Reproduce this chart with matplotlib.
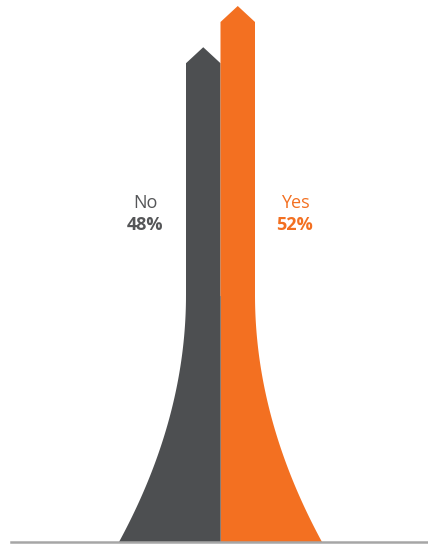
import numpy as np
import matplotlib
matplotlib.use("Agg")
import matplotlib.pyplot as plt

# Data
categories = ["No", "Yes"]
values = [48, 52]
colors = ["#4D4F51", "#F37021"]
label_colors = ["#555658", "#F37021"]

W, H = 428, 545
fig = plt.figure(figsize=(W / 100, H / 100), dpi=100)
ax = fig.add_axes([0, 0, 1, 1])

# scale: pixels per percentage unit
k = 536 / 52.0
base_px = 542  # baseline pixel row from top
ax.set_xlim(0, W)
ax.set_ylim(-(H - base_px) / k, base_px / k)
ax.axis("off")

center = 220.5
col_w = 34.5
head_h = 16 / k
flare_h = 247 / k
flare_ext = 67

def shape(side, val):
    # side = -1 for left (No), +1 for right (Yes)
    inner = center
    outer = center + side * col_w
    hs = np.linspace(0, flare_h, 80)
    ext = flare_ext * (1 - hs / flare_h) ** 2
    xs_flare = outer + side * ext
    xs = [inner] + list(xs_flare) + [outer, outer, (inner + outer) / 2, inner, inner]
    ys = [0] + list(hs) + [flare_h, val - head_h, val, val - head_h, 0]
    return xs, ys

for i, (cat, v) in enumerate(zip(categories, values)):
    side = -1 if i == 0 else 1
    xs, ys = shape(side, v)
    ax.fill(xs, ys, color=colors[i], lw=0, zorder=2)

# thin separator
ax.plot([center, center], [0, 246 / k], color="#7a7b7c", lw=0.6, zorder=3)

# baseline
ax.axhline(0, xmin=11 / W, xmax=1, color="#A6A6A6", lw=1.8, zorder=4)

# labels
label_x = [145, 295]
for i, (cat, v) in enumerate(zip(categories, values)):
    ax.text(label_x[i], (base_px - 202.5) / k, cat, ha="center", va="center",
            fontsize=13, color=label_colors[i], family="Open Sans")
    ax.text(label_x[i], (base_px - 224.5) / k, f"{v}%", ha="center", va="center",
            fontsize=13, fontweight="bold", color=label_colors[i], family="Open Sans")

fig.savefig("out.png", dpi=100)
